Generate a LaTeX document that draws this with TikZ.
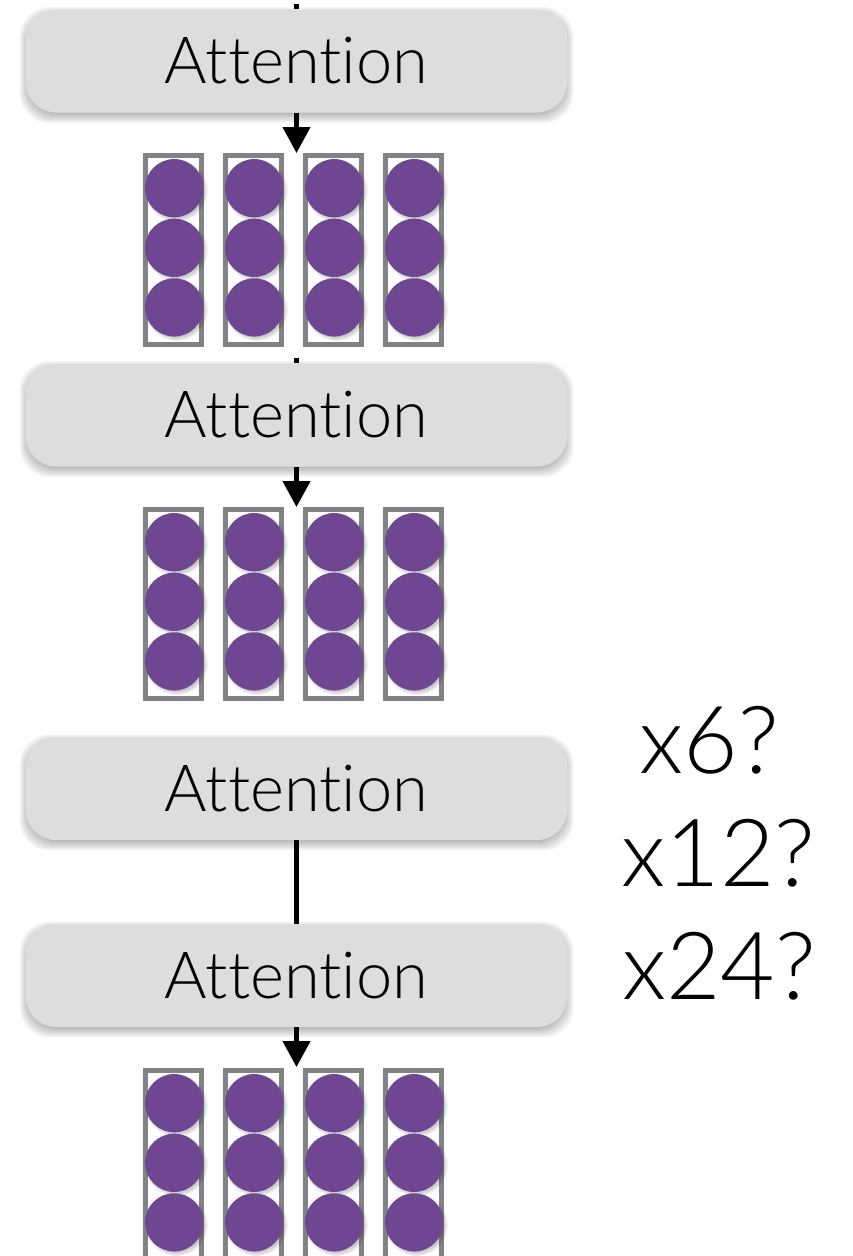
\documentclass[tikz,border=0pt]{standalone}
\usepackage{fontspec}
\setmainfont{Lato}[UprightFont=* Light, Ligatures=NoCommon]
\usetikzlibrary{arrows.meta,backgrounds}

\definecolor{boxgray}{RGB}{220,221,223}
\definecolor{framegray}{RGB}{128,130,133}
\definecolor{dotpurple}{RGB}{111,70,146}

\tikzset{
  attn/.style={rounded corners=30pt, fill=boxgray, minimum width=541pt,
    minimum height=103pt, inner sep=0pt, font=\fontsize{65}{80}\selectfont},
  colframe/.style={draw=framegray, line width=5pt, minimum width=55.7pt,
    minimum height=189.5pt, inner sep=0pt},
  dot/.style={circle, fill=dotpurple, minimum size=58.3pt, inner sep=0pt},
  flow/.style={line width=4.5pt, black},
  flowarrow/.style={flow, -{Triangle[length=26pt,width=27pt]}},
  repeatlabel/.style={inner sep=0pt, font=\fontsize{94}{110}\selectfont},
}

% soft shadow under a box node
\newcommand\boxshadow[1]{%
  \begin{scope}[on background layer]
    \foreach \e in {-2,0,2,4,6}
      \fill[black, opacity=0.06, rounded corners=30pt]
        ([shift={(-\e,-\e+4)}]#1.north west) rectangle ([shift={(\e,\e+4)}]#1.south east);
  \end{scope}}

% four token columns of three dots each; #1 prefix, #2 top edge
\newcommand\tokengroup[2]{%
  \foreach \c in {0,1,2,3} {
    \node[colframe] (#1c\c) at (173.7+80*\c, #2+96) {};
  }
  \foreach \c in {0,1,2,3} {
    \foreach \r in {0,1,2} {
      \foreach \k in {0,1.5,3}
        \fill[black, opacity=0.07] (174.2+80*\c+2.5, #2+34.2+59.6*\r+2.5) circle (28+\k);
    }
  }
  \foreach \c in {0,1,2,3} {
    \foreach \r in {0,1,2} {
      \node[dot] (#1d\c\r) at (174.2+80*\c, #2+34.2+59.6*\r) {};
    }
  }}

\begin{document}
\begin{tikzpicture}[x=1pt, y=-1pt]
  \useasboundingbox (0,0) rectangle (853,1256);
  \clip (0,0) rectangle (853,1256);

  % attention blocks
  \node[attn] (b1) at (296.5,61) {Attention};
  \node[attn] (b2) at (296.5,415) {Attention};
  \node[attn] (b3) at (296.5,788.5) {Attention};
  \node[attn] (b4) at (296.5,975.5) {Attention};
  \boxshadow{b1}
  \boxshadow{b2}
  \boxshadow{b3}
  \boxshadow{b4}

  % token groups
  \tokengroup{ga}{154}
  \tokengroup{gb}{508}
  \tokengroup{gc}{1069}

  % incoming stubs behind the blocks
  \coordinate (in1) at (296.5,4);
  \coordinate (in2) at (296.5,358);
  \begin{scope}[on background layer]
    \draw[flow] (in1) -- (b1.north);
    \draw[flow] (in2) -- (b2.north);
  \end{scope}

  % arrows into the token groups
  \coordinate (ta) at (296.5,153);
  \coordinate (tb) at (296.5,507);
  \coordinate (tc) at (296.5,1067);
  \draw[flowarrow] (b1.south) -- (ta);
  \draw[flowarrow] (b2.south) -- (tb);
  \draw[flowarrow] (b4.south) -- (tc);
  \draw[flow] (b3.south) -- (b4.north);

  % repetition count
  \node[repeatlabel] (r1) at (709.5,740) {x6?};
  \node[repeatlabel] (r2) at (718.5,853.5) {x12?};
  \node[repeatlabel] (r3) at (719,966.5) {x24?};
\end{tikzpicture}
\end{document}
